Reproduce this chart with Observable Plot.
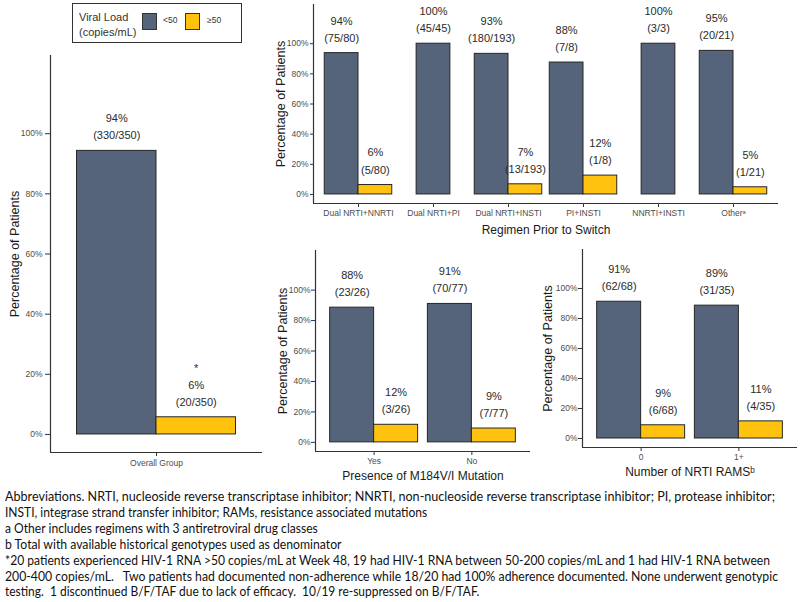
<!DOCTYPE html>
<html>
<head>
<meta charset="utf-8">
<script src="https://cdn.jsdelivr.net/npm/d3@7"></script>
<script src="https://cdn.jsdelivr.net/npm/@observablehq/plot@0.6"></script>
<style>
  html, body { margin: 0; padding: 0; background: #fff; }
  #root { position: relative; width: 800px; height: 602px; overflow: hidden; font-family: "Liberation Sans", Arial, sans-serif; }
  .panel { position: absolute; }
  #legend { position: absolute; left: 72px; top: 3px; width: 168px; height: 38px; border: 1px solid #333; box-sizing: content-box; }
  #legend .t { position: absolute; left: 6px; top: 6px; font-size: 11px; line-height: 15px; color: #333; }
  #legend .sw { position: absolute; top: 9px; width: 15px; height: 17px; border: 1px solid #333; box-sizing: border-box; }
  #legend .lb { position: absolute; top: 11px; font-size: 8.5px; color: #333; }
  #foot { position: absolute; left: 5px; top: 489px; font-family: Lato, "Open Sans", sans-serif; font-size: 12.6px; line-height: 15.9px; color: #111; }
  #foot .ln { display: block; white-space: pre; width: max-content; transform-origin: 0 50%; }
  #measure { position: absolute; left: -9999px; top: 0; font-family: Lato, "Open Sans", sans-serif; font-size: 12.6px; white-space: pre; }
</style>
</head>
<body>
<div id="root">
  <div id="legend"></div>
  <div id="foot"></div>
</div>
<span id="measure"></span>
<script>
// ---------- data ----------
const seriesNames = ["<50", "≥50"];
const seriesColors = ["#56647b", "#ffc20e"];

const overallCats = ["Overall Group"];
const overallLt = [330];
const overallGe = [20];
const overallTot = [350];
const overallPctLt = [94];
const overallPctGe = [6];
const overallNoteGe = ["*"];

const regimenCats = ["Dual NRTI+NNRTI", "Dual NRTI+PI", "Dual NRTI+INSTI", "PI+INSTI", "NNRTI+INSTI", "Otherᵃ"];
const regimenLt = [75, 45, 180, 7, 3, 20];
const regimenGe = [5, 0, 13, 1, 0, 1];
const regimenTot = [80, 45, 193, 8, 3, 21];
const regimenPctLt = [94, 100, 93, 88, 100, 95];
const regimenPctGe = [6, null, 7, 12, null, 5];

const m184Cats = ["Yes", "No"];
const m184Lt = [23, 70];
const m184Ge = [3, 7];
const m184Tot = [26, 77];
const m184PctLt = [88, 91];
const m184PctGe = [12, 9];

const ramsCats = ["0", "1+"];
const ramsLt = [62, 31];
const ramsGe = [6, 4];
const ramsTot = [68, 35];
const ramsPctLt = [91, 89];
const ramsPctGe = [9, 11];

const yTicks = [0, 20, 40, 60, 80, 100];
const footLines = [
  "Abbreviations. NRTI, nucleoside reverse transcriptase inhibitor; NNRTI, non-nucleoside reverse transcriptase inhibitor; PI, protease inhibitor;",
  "INSTI, integrase strand transfer inhibitor; RAMs, resistance associated mutations",
  "a Other includes regimens with 3 antiretroviral drug classes",
  "b Total with available historical genotypes used as denominator",
  "*20 patients experienced HIV-1 RNA >50 copies/mL at Week 48, 19 had HIV-1 RNA between 50-200 copies/mL and 1 had HIV-1 RNA between",
  "200-400 copies/mL.   Two patients had documented non-adherence while 18/20 had 100% adherence documented. None underwent genotypic",
  "testing.  1 discontinued B/F/TAF due to lack of efficacy.  10/19 re-suppressed on B/F/TAF."
];
// layout: how many characters of each footnote line reach a given x in the reference
const footAnchorChars = [footLines[0].length, 58, 57, 56, footLines[4].length, footLines[5].length, 57];
const footAnchorX = [775, 301, 301, 300, 770, 778, 296];

// ---------- helpers ----------
function buildRows(cats, lt, ge, tot, pctLt, pctGe, notesGe) {
  const rows = [];
  const half = 0.45;
  cats.forEach((c, i) => {
    const both = ge[i] > 0;
    if (both) {
      rows.push({i, s: seriesNames[0], x1: i - half, x2: i, v: 100 * lt[i] / tot[i],
                 label: `${pctLt[i]}%\n(${lt[i]}/${tot[i]})`});
      const note = notesGe && notesGe[i] ? notesGe[i] + "\n" : "";
      rows.push({i, s: seriesNames[1], x1: i, x2: i + half, v: 100 * ge[i] / tot[i],
                 label: `${note}${pctGe[i]}%\n(${ge[i]}/${tot[i]})`});
    } else {
      rows.push({i, s: seriesNames[0], x1: i - half / 2, x2: i + half / 2, v: 100 * lt[i] / tot[i],
                 label: `${pctLt[i]}%\n(${lt[i]}/${tot[i]})`});
    }
  });
  return rows;
}

function panel(cfg) {
  const {cats, rows, width, height, mt, mr, mb, ml, xTitle, titleDy, yTitleDx, tickSizeY, tickPadY, tickPadX} = cfg;
  const n = cats.length;
  return Plot.plot({
    width, height,
    marginTop: mt, marginRight: mr, marginBottom: mb, marginLeft: ml,
    style: {fontFamily: '"Liberation Sans", Arial, sans-serif', background: "transparent", overflow: "visible"},
    x: {domain: [-0.6, n - 0.4]},
    y: {domain: [-6, 126]},
    color: {domain: seriesNames, range: seriesColors},
    marks: [
      Plot.rectY(rows, {x1: "x1", x2: "x2", y1: 0, y2: "v", fill: "s", stroke: "#262626", strokeWidth: 1}),
      Plot.text(rows, {x: d => (d.x1 + d.x2) / 2, y: "v", text: "label", lineAnchor: "bottom", dy: -11.5,
                       fontSize: 11, lineHeight: 1.55, fill: "#2b2b2b"}),
      Plot.ruleX([-0.6], {stroke: "#333", strokeWidth: 1.2}),
      Plot.ruleY([-6], {stroke: "#333", strokeWidth: 1.2}),
      Plot.axisX({ticks: d3.range(n), tickFormat: i => cats[i], tickSize: 4, tickPadding: tickPadX ?? 2,
                  fontSize: 8.5, stroke: "#333", fill: "#4d4d4d", label: null}),
      Plot.axisY({ticks: yTicks, tickFormat: d => d + "%", tickSize: tickSizeY ?? 4, tickPadding: tickPadY ?? 2,
                  fontSize: 8.5, stroke: "#333", fill: "#4d4d4d", label: null}),
      Plot.text(["Percentage of Patients"], {text: d => d, frameAnchor: "left", textAnchor: "middle", lineAnchor: "middle",
                  rotate: -90, dx: yTitleDx, fontSize: 12.5, fill: "#1a1a1a"}),
      ...(xTitle ? [Plot.text([xTitle], {text: d => d, frameAnchor: "bottom", lineAnchor: "middle", dy: titleDy,
                  fontSize: 12, fill: "#1a1a1a"})] : [])
    ]
  });
}

function place(el, left, top) {
  const d = document.createElement("div");
  d.className = "panel";
  d.style.left = left + "px";
  d.style.top = top + "px";
  d.appendChild(el);
  document.getElementById("root").appendChild(d);
}

// ---------- panels ----------
place(panel({
  cats: overallCats,
  rows: buildRows(overallCats, overallLt, overallGe, overallTot, overallPctLt, overallPctGe, overallNoteGe),
  width: 265, height: 437, mt: 10, mr: 3, mb: 30, ml: 50,
  xTitle: null, yTitleDx: -36, tickSizeY: 5, tickPadY: 3, tickPadX: 3
}), 0, 45);

place(panel({
  cats: regimenCats,
  rows: buildRows(regimenCats, regimenLt, regimenGe, regimenTot, regimenPctLt, regimenPctGe),
  width: 528, height: 239, mt: 4, mr: 10, mb: 36, ml: 53,
  xTitle: "Regimen Prior to Switch", titleDy: 27, yTitleDx: -33, tickSizeY: 3, tickPadY: 2
}), 260, 0);

place(panel({
  cats: m184Cats,
  rows: buildRows(m184Cats, m184Lt, m184Ge, m184Tot, m184PctLt, m184PctGe),
  width: 280, height: 251, mt: 10, mr: 5, mb: 40, ml: 60,
  xTitle: "Presence of M184V/I Mutation", titleDy: 25, yTitleDx: -33, tickSizeY: 4, tickPadY: 1
}), 255, 240);

place(panel({
  cats: ramsCats,
  rows: buildRows(ramsCats, ramsLt, ramsGe, ramsTot, ramsPctLt, ramsPctGe),
  width: 270, height: 247, mt: 9, mr: 3, mb: 40, ml: 52,
  xTitle: "Number of NRTI RAMSᵇ", titleDy: 25, yTitleDx: -35, tickSizeY: 4, tickPadY: 1
}), 530, 240);

// ---------- legend ----------
const lg = document.getElementById("legend");
lg.innerHTML = `<div class="t">Viral Load<br>(copies/mL)</div>`;
const swX = [69, 112];
const lbX = [90, 134];
seriesNames.forEach((s, k) => {
  const sw = document.createElement("div");
  sw.className = "sw"; sw.style.left = swX[k] + "px"; sw.style.background = seriesColors[k];
  lg.appendChild(sw);
  const lb = document.createElement("div");
  lb.className = "lb"; lb.style.left = lbX[k] + "px"; lb.textContent = s;
  lg.appendChild(lb);
});

// ---------- footnotes ----------
const foot = document.getElementById("foot");
const meas = document.getElementById("measure");
footLines.forEach((t, k) => {
  const s = document.createElement("span");
  s.className = "ln";
  s.textContent = t;
  foot.appendChild(s);
  meas.textContent = t.slice(0, footAnchorChars[k]);
  const w = meas.getBoundingClientRect().width;
  if (w > 0) s.style.transform = `scaleX(${(footAnchorX[k] - 5) / w})`;
});
meas.textContent = "";
</script>
</body>
</html>
